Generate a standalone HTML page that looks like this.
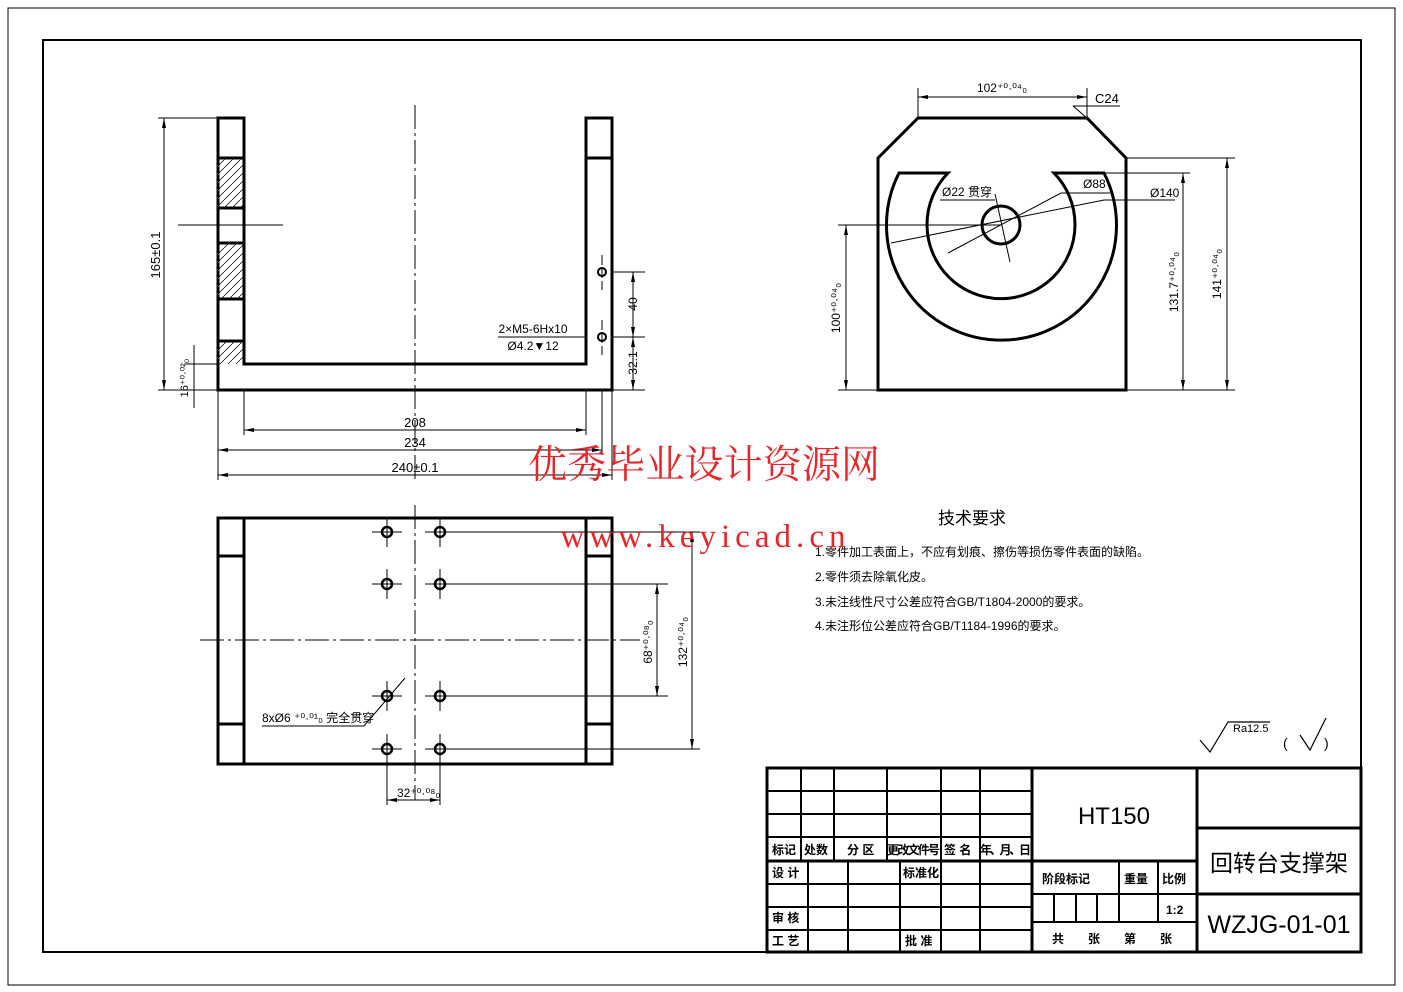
<!DOCTYPE html>
<html><head><meta charset="utf-8"><style>
html,body{margin:0;padding:0;background:#fff;}
svg{display:block;}
text{font-family:"Liberation Sans","Noto Sans CJK SC",sans-serif;fill:#000;}
</style></head><body>
<svg width="1403" height="992" viewBox="0 0 1403 992" xmlns="http://www.w3.org/2000/svg">
<defs>
<marker id="a" viewBox="0 0 10 4" refX="10" refY="2" markerWidth="10" markerHeight="4" orient="auto-start-reverse" markerUnits="userSpaceOnUse"><path d="M0,0 L10,2 L0,4z" fill="#000"/></marker>
<pattern id="h" width="8" height="8" patternUnits="userSpaceOnUse"><path d="M0,8 L8,0" stroke="#000" stroke-width="0.7"/></pattern>
</defs>
<rect x="8" y="8" width="1387" height="977" fill="none" stroke="#000" stroke-width="1"/>
<rect x="43" y="40" width="1318" height="912" fill="none" stroke="#000" stroke-width="2"/>

<!-- FRONT VIEW -->
<g stroke="#000" fill="none">
<rect x="218" y="158" width="26" height="50" fill="url(#h)" stroke="none"/>
<rect x="218" y="243" width="26" height="56" fill="url(#h)" stroke="none"/>
<rect x="218" y="341" width="26" height="23" fill="url(#h)" stroke="none"/>
<path d="M218,118 H244 V364 H586 V118 H612 V390 H218 Z" stroke-width="3"/>
<path d="M218,158 H244 M218,208 H244 M218,243 H244 M218,299 H244 M218,341 H244 M586,158 H612" stroke-width="3"/>
<path d="M415,105 V480" stroke-width="1" stroke-dasharray="24,4,3,4"/>
<path d="M178,225 H283" stroke-width="1"/>
<path d="M602,255 V290 M602,320 V355" stroke-width="1" stroke-dasharray="10,3"/>
<circle cx="602" cy="272" r="4" stroke-width="2"/><circle cx="602" cy="337" r="4" stroke-width="2"/>
<g stroke-width="1">
<path d="M158,118 H218 M158,390 H218 M185,364 H218 M612,272 H645 M612,337 H645 M612,390 H645"/>
<path d="M164,118 V390" marker-start="url(#a)" marker-end="url(#a)"/>
<path d="M194,345 V408" />
<path d="M633,272 V337" marker-start="url(#a)" marker-end="url(#a)"/>
<path d="M633,337 V390" marker-start="url(#a)" marker-end="url(#a)"/>
<path d="M244,390 V435 M586,390 V435 M218,390 V480 M602,390 V455 M612,390 V480"/>
<path d="M244,430 H586" marker-start="url(#a)" marker-end="url(#a)"/>
<path d="M218,450 H602" marker-start="url(#a)" marker-end="url(#a)"/>
<path d="M218,475 H612" marker-start="url(#a)" marker-end="url(#a)"/>
<path d="M498,337 H586 M616,337 H625"/>
</g>
</g>
<text x="160" y="255" font-size="13" transform="rotate(-90 160 255)" text-anchor="middle">165±0.1</text>
<text x="188" y="378" font-size="11" transform="rotate(-90 188 378)" text-anchor="middle">16⁺⁰·⁰²₀</text>
<text x="415" y="427" font-size="13" text-anchor="middle">208</text>
<text x="415" y="447" font-size="13" text-anchor="middle">234</text>
<text x="415" y="472" font-size="13" text-anchor="middle">240±0.1</text>
<text x="533" y="333" font-size="12" text-anchor="middle">2×M5-6Hx10</text>
<text x="533" y="350" font-size="12" text-anchor="middle">Ø4.2▼12</text>
<text x="637" y="304" font-size="12" transform="rotate(-90 637 304)" text-anchor="middle">40</text>
<text x="637" y="363" font-size="12" transform="rotate(-90 637 363)" text-anchor="middle">32.1</text>

<!-- RIGHT VIEW -->
<g stroke="#000" fill="none">
<path d="M918,118 H1087 L1126,158 V390 H878 V158 Z" stroke-width="3"/>
<path d="M899,173 H948 A74,74 0 1 0 1054,173 H1104 A115,115 0 1 1 899,173 Z" stroke-width="3"/>
<circle cx="1001" cy="225" r="19" stroke-width="3"/>
<g stroke-width="1">
<path d="M918,118 V88 M1087,118 V88"/>
<path d="M918,97 H1087" marker-start="url(#a)" marker-end="url(#a)"/>
<path d="M1073,106 L1087,118 M1073,106 H1120"/>
<path d="M838,225 H1001 M838,390 H878 M1104,173 H1190 M1126,158 H1235 M1126,390 H1235"/>
<path d="M846,225 V390" marker-start="url(#a)" marker-end="url(#a)"/>
<path d="M1183,173 V390" marker-start="url(#a)" marker-end="url(#a)"/>
<path d="M1227,158 V390" marker-start="url(#a)" marker-end="url(#a)"/>
<path d="M891,243 L1104,200 L1175,200"/>
<path d="M948,253 L1061,193 L1110,193"/>
<path d="M995,194 L1010,262"/>
<path d="M940,200 H995"/>
</g>
</g>
<text x="1002" y="92" font-size="12" text-anchor="middle">102⁺⁰·⁰⁴₀</text>
<text x="1095" y="103" font-size="13">C24</text>
<text x="942" y="196" font-size="12">Ø22 贯穿</text>
<text x="1083" y="188" font-size="12">Ø88</text>
<text x="1150" y="197" font-size="12">Ø140</text>
<text x="840" y="308" font-size="12" transform="rotate(-90 840 308)" text-anchor="middle">100⁺⁰·⁰⁴₀</text>
<text x="1178" y="282" font-size="12" transform="rotate(-90 1178 282)" text-anchor="middle">131.7⁺⁰·⁰⁴₀</text>
<text x="1221" y="274" font-size="12" transform="rotate(-90 1221 274)" text-anchor="middle">141⁺⁰·⁰⁴₀</text>

<!-- BOTTOM VIEW -->
<g stroke="#000" fill="none">
<rect x="218" y="518" width="394" height="246" stroke-width="3"/>
<path d="M244,518 V764 M586,518 V764 M218,556 H244 M218,724 H244 M586,556 H612 M586,724 H612" stroke-width="3"/>
<path d="M200,640 H640" stroke-width="1" stroke-dasharray="24,4,3,4"/>
<path d="M415,505 V800" stroke-width="1" stroke-dasharray="24,4,3,4"/>
<g stroke-width="1">
<path d="M372,532 H402 M387,517 V547 M425,532 H455 M440,517 V547"/>
<path d="M372,584 H402 M387,569 V599 M425,584 H455 M440,569 V599"/>
<path d="M372,696 H402 M387,681 V711 M425,696 H455 M440,681 V711"/>
<path d="M372,749 H402 M387,734 V805 M425,749 H455 M440,734 V805"/>
<path d="M440,532 H700 M440,584 H668 M440,696 H668 M440,749 H700"/>
<path d="M657,584 V696" marker-start="url(#a)" marker-end="url(#a)"/>
<path d="M692,532 V749" marker-start="url(#a)" marker-end="url(#a)"/>
<path d="M387,800 H440" marker-start="url(#a)" marker-end="url(#a)"/>
<path d="M262,726 H364 L405,678"/>
</g>
<g stroke-width="2.5">
<circle cx="387" cy="532" r="5"/><circle cx="440" cy="532" r="5"/>
<circle cx="387" cy="584" r="5"/><circle cx="440" cy="584" r="5"/>
<circle cx="387" cy="696" r="5"/><circle cx="440" cy="696" r="5"/>
<circle cx="387" cy="749" r="5"/><circle cx="440" cy="749" r="5"/>
</g>
</g>
<text x="262" y="722" font-size="12">8xØ6 ⁺⁰·⁰¹₀ 完全贯穿</text>
<text x="397" y="797" font-size="12">32⁺⁰·⁰⁸₀</text>
<text x="652" y="642" font-size="12" transform="rotate(-90 652 642)" text-anchor="middle">68⁺⁰·⁰⁸₀</text>
<text x="687" y="642" font-size="12" transform="rotate(-90 687 642)" text-anchor="middle">132⁺⁰·⁰⁴₀</text>

<!-- Tech requirements -->
<text x="972" y="524" font-size="17" text-anchor="middle">技术要求</text>
<text x="815" y="556" font-size="12">1.零件加工表面上，不应有划痕、擦伤等损伤零件表面的缺陷。</text>
<text x="815" y="581" font-size="12">2.零件须去除氧化皮。</text>
<text x="815" y="606" font-size="12">3.未注线性尺寸公差应符合GB/T1804-2000的要求。</text>
<text x="815" y="630" font-size="12">4.未注形位公差应符合GB/T1184-1996的要求。</text>

<!-- roughness -->
<g stroke="#000" fill="none" stroke-width="1.2">
<path d="M1200,740 L1210,752 L1228,722 H1270"/>
<path d="M1300,735 L1310,750 L1326,718"/>
</g>
<text x="1233" y="732" font-size="11">Ra12.5</text>
<text x="1283" y="748" font-size="14">(</text><text x="1324" y="748" font-size="14">)</text>

<!-- Title block -->
<g stroke="#000" fill="none">
<rect x="767" y="768" width="594" height="184" stroke-width="3"/>
<path d="M1032,768 V952 M1197,768 V952 M767,861 H1032 M1032,861 H1197 M1197,828 H1361 M1197,894 H1361" stroke-width="3"/>
<path d="M767,791 H1032 M767,814 H1032 M767,837 H1032 M767,884 H1032 M767,907 H1032 M767,930 H1032" stroke-width="2"/>
<path d="M801,768 V861 M834,768 V861 M887,768 V861 M941,768 V861 M980,768 V861" stroke-width="2"/>
<path d="M808,861 V952 M848,861 V952 M900,861 V952 M941,861 V952 M980,861 V952" stroke-width="2"/>
<path d="M1032,894 H1197 M1032,922 H1197 M1119,861 V922 M1158,861 V922 M1054,894 V922 M1076,894 V922 M1097,894 V922" stroke-width="2"/>
</g>
<g font-size="12" font-weight="bold">
<text x="772" y="854">标记</text><text x="804" y="854">处数</text><text x="847" y="854">分 区</text>
<text x="887" y="854" textLength="53">更改文件号</text><text x="944" y="854">签 名</text><text x="980" y="854" textLength="51">年、月、日</text>
<text x="772" y="877">设 计</text><text x="903" y="877">标准化</text>
<text x="772" y="922">审 核</text><text x="772" y="945">工 艺</text><text x="905" y="945">批 准</text>
<text x="1042" y="883">阶段标记</text><text x="1124" y="883">重量</text><text x="1162" y="883">比例</text>
<text x="1166" y="914">1:2</text>
<text x="1052" y="943" textLength="120">共 张 第 张</text>
</g>
<text x="1114" y="824" font-size="24" text-anchor="middle">HT150</text>
<text x="1279" y="871" font-size="23" text-anchor="middle">回转台支撑架</text>
<text x="1279" y="933" font-size="25" text-anchor="middle">WZJG-01-01</text>

<!-- watermark -->
<text x="704" y="478" font-size="39" style="fill:#e8262a;font-family:'Noto Serif CJK SC','Liberation Serif',serif" text-anchor="middle" textLength="352">优秀毕业设计资源网</text>
<text x="703" y="547" font-size="33" style="fill:#e8262a;font-family:'Liberation Serif',serif" text-anchor="middle" textLength="285">www.keyicad.cn</text>
</svg>
</body></html>
